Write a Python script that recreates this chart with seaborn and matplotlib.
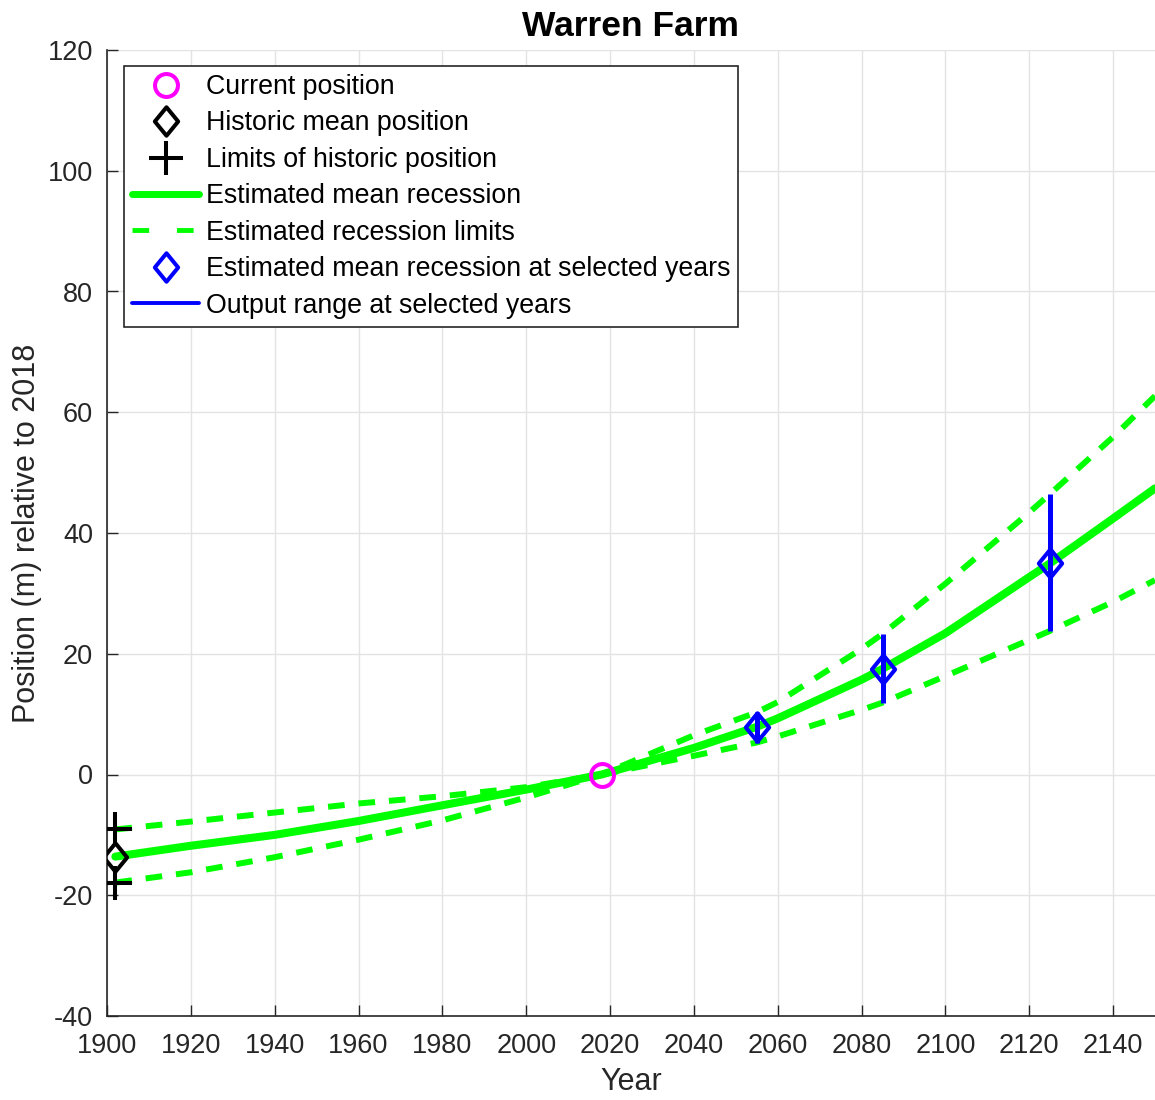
import numpy as np
import pandas as pd
import matplotlib
matplotlib.use("Agg")
import matplotlib.pyplot as plt
from matplotlib.lines import Line2D
from matplotlib.path import Path
import seaborn as sns

# ---- data -------------------------------------------------------------
years = [1902, 1920, 1940, 1960, 1980, 2000, 2018, 2040, 2055, 2060,
         2080, 2085, 2100, 2120, 2125, 2140, 2150]
mean_recession = [-13.6, -11.8, -10.0, -7.7, -5.1, -2.5, 0.0, 4.4, 7.9, 9.3,
                  15.7, 17.5, 23.4, 32.7, 35.0, 42.4, 47.4]
limit_fast = [-17.9, -16.2, -13.7, -10.8, -7.6, -3.8, 0.0, 6.5, 10.3, 12.0,
              20.8, 23.3, 31.6, 43.4, 46.5, 55.9, 62.7]
limit_slow = [-9.1, -7.8, -6.3, -4.8, -3.6, -2.1, 0.0, 3.1, 5.3, 6.3,
              10.7, 11.9, 16.3, 22.3, 23.8, 28.6, 32.2]

current_year = [2018]
current_pos = [0.0]

historic_year = [1902]
historic_mean = [-13.6]
historic_limits = [-9.1, -17.9]

selected_years = [2055, 2085, 2125]
selected_mean = [7.9, 17.5, 35.1]
selected_low = [5.3, 11.9, 23.8]
selected_high = [10.3, 23.3, 46.5]

xticks = list(range(1900, 2141, 20))
yticks = list(range(-40, 121, 20))

# ---- style ------------------------------------------------------------
sns.set_theme(style="whitegrid")
plt.rcParams["font.family"] = ["Liberation Sans", "DejaVu Sans"]
plt.rcParams["lines.scale_dashes"] = False
plt.rcParams["axes.unicode_minus"] = False

GREEN = "#00ff00"
BLUE = "#0000ff"
MAGENTA = "#ff00ff"
DARK = "#262626"

diamond = Path([(0, 1), (0.82, 0), (0, -1), (-0.82, 0), (0, 1)],
               [Path.MOVETO, Path.LINETO, Path.LINETO, Path.LINETO, Path.CLOSEPOLY])
D_MS = 20.5

fig = plt.figure(figsize=(11.55, 11.0), dpi=100)
ax = fig.add_axes([107 / 1155, 84 / 1100, 1048 / 1155, 966 / 1100])

curves = pd.DataFrame({"Year": years, "mean": mean_recession,
                       "fast": limit_fast, "slow": limit_slow})

sns.lineplot(data=curves, x="Year", y="mean", ax=ax, color=GREEN, lw=5.8,
             estimator=None, zorder=3)
for col in ["fast", "slow"]:
    sns.lineplot(data=curves, x="Year", y=col, ax=ax, color=GREEN, lw=4.3,
                 estimator=None, dashes=False, zorder=3).lines[-1].set_dashes((12, 10))

# output ranges at selected years
ax.vlines(selected_years, selected_low, selected_high, color=BLUE, lw=3.6, zorder=4)
ax.plot(selected_years, selected_mean, ls="none", marker=diamond, ms=D_MS,
        mfc="none", mec=BLUE, mew=2.9, zorder=5)

# historic position and its limits
ax.plot(historic_year * len(historic_limits), historic_limits, ls="none",
        marker="+", ms=24.5, mew=2.9, color="black", zorder=5)
ax.plot(historic_year, historic_mean, ls="none", marker=diamond, ms=D_MS,
        mfc="none", mec="black", mew=2.9, zorder=6)

# current position
ax.plot(current_year, current_pos, ls="none", marker="o", ms=16.5,
        mfc="none", mec=MAGENTA, mew=2.9, zorder=6)

# ---- axes -------------------------------------------------------------
ax.set_xlim(1900, 2150)
ax.set_ylim(-40, 120)
ax.set_xticks(xticks)
ax.set_yticks(yticks)
ax.set_facecolor("white")
ax.grid(True, color="#e3e3e3", lw=1.0)
for side in ["top", "right"]:
    ax.spines[side].set_visible(False)
for side in ["left", "bottom"]:
    ax.spines[side].set_color(DARK)
    ax.spines[side].set_linewidth(1.2)
ax.tick_params(direction="in", length=8, width=1.0, color=DARK,
               labelsize=19.5, labelcolor=DARK, pad=10,
               left=True, bottom=True)
ax.tick_params(axis="x", pad=12)

ax.set_xlabel("Year", fontsize=22, color=DARK, labelpad=6)
ax.set_ylabel("Position (m) relative to 2018", fontsize=22, color=DARK, labelpad=4)
ax.set_title("Warren Farm", fontsize=25.5, fontweight="bold", color="black", pad=10)

# ---- legend -----------------------------------------------------------
handles = [
    Line2D([], [], ls="none", marker="o", ms=16.5, mfc="none", mec=MAGENTA, mew=2.9),
    Line2D([], [], ls="none", marker=diamond, ms=D_MS, mfc="none", mec="black", mew=2.9),
    Line2D([], [], ls="none", marker="+", ms=24.5, mew=2.9, color="black"),
    Line2D([], [], color=GREEN, lw=5.0),
    Line2D([], [], color=GREEN, lw=3.5, dashes=(12, 20)),
    Line2D([], [], ls="none", marker=diamond, ms=D_MS, mfc="none", mec=BLUE, mew=2.9),
    Line2D([], [], color=BLUE, lw=2.8),
]
labels = ["Current position", "Historic mean position", "Limits of historic position",
          "Estimated mean recession", "Estimated recession limits",
          "Estimated mean recession at selected years", "Output range at selected years"]
leg = ax.legend(handles, labels, loc="upper left", fontsize=19.3,
                bbox_to_anchor=(17 / 1048, 1 - 16 / 966),
                borderaxespad=0.0, borderpad=0.3, handlelength=2.5,
                handletextpad=0.25, labelspacing=0.39, fancybox=False,
                framealpha=1.0, edgecolor=DARK, facecolor="white")
leg.get_frame().set_linewidth(1.2)
for t in leg.get_texts():
    t.set_color("black")

fig.savefig("out.png", dpi=100, facecolor="white")
